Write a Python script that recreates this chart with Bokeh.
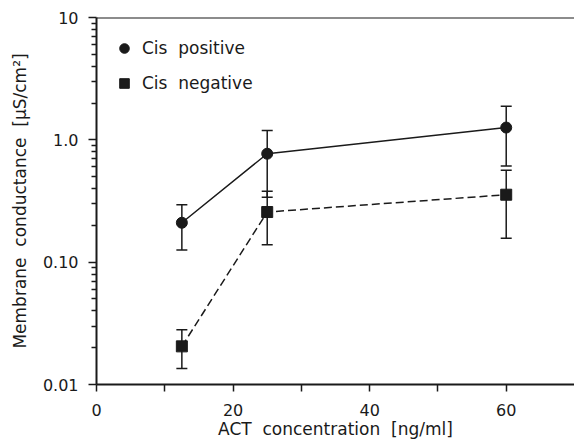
from bokeh.plotting import figure
from bokeh.models import (Whisker, TeeHead, ColumnDataSource, Legend, LegendItem,
                          FixedTicker, Span, Range1d)
from bokeh.embed import file_html
from bokeh.resources import INLINE

# ---- data ----
conc = [12.5, 25, 60]
pos_mean = [0.21, 0.77, 1.26]
pos_upper = [0.295, 1.19, 1.88]
pos_lower = [0.126, 0.34, 0.61]
neg_mean = [0.0205, 0.257, 0.356]
neg_upper = [0.028, 0.38, 0.565]
neg_lower = [0.0135, 0.139, 0.157]

x_ticks = [0, 10, 20, 30, 40, 50, 60]
x_tick_labels = {0: "0", 10: "", 20: "20", 30: "", 40: "40", 50: "", 60: "60"}
y_ticks = [0.01, 0.1, 1, 10]
y_tick_labels = {0.01: "0.01", 0.1: "0.10", 1: "1.0", 10: "10"}
y_minor = [m * 10.0 ** k for k in (-2, -1, 0) for m in range(2, 10)]

INK = "#1a1a1a"
FONT = "DejaVu Sans"

p = figure(width=574, height=441, y_axis_type="log",
           x_range=Range1d(0, 70), y_range=Range1d(0.01, 10),
           output_backend="svg", toolbar_location=None,
           min_border_left=96, min_border_top=17, min_border_bottom=57,
           min_border_right=0)
p.outline_line_color = None
p.grid.visible = False
p.background_fill_color = "white"

# top border line
p.add_layout(Span(location=10, dimension="width", line_color=INK, line_width=2))

src_pos = ColumnDataSource(dict(x=conc, y=pos_mean, upper=pos_upper, lower=pos_lower))
src_neg = ColumnDataSource(dict(x=conc, y=neg_mean, upper=neg_upper, lower=neg_lower))

for src in (src_pos, src_neg):
    p.add_layout(Whisker(base="x", upper="upper", lower="lower", source=src,
                         line_color=INK, line_width=1.5,
                         upper_head=TeeHead(size=11, line_color=INK, line_width=1.5),
                         lower_head=TeeHead(size=11, line_color=INK, line_width=1.5)))

p.line("x", "y", source=src_pos, line_color=INK, line_width=1.5)
p.line("x", "y", source=src_neg, line_color=INK, line_width=1.5, line_dash="8 4")
r_pos = p.scatter("x", "y", source=src_pos, marker="circle", size=11,
                  fill_color=INK, line_color=INK)
r_neg = p.scatter("x", "y", source=src_neg, marker="square", size=11,
                  fill_color=INK, line_color=INK)

legend = Legend(items=[LegendItem(label="Cis\u00a0 positive", renderers=[r_pos]),
                       LegendItem(label="Cis\u00a0 negative", renderers=[r_neg])],
                location="top_left", margin=16, padding=0, spacing=5,
                glyph_width=24, glyph_height=30, label_height=30, label_standoff=6,
                label_text_font=FONT, label_text_font_size="17px", label_text_color=INK,
                border_line_color=None, background_fill_alpha=0)
p.add_layout(legend)

# x axis
xa = p.xaxis[0]
xa.ticker = FixedTicker(ticks=x_ticks)
xa.major_label_overrides = x_tick_labels
xa.axis_label = "ACT\u00a0 concentration\u00a0 [ng/ml]"
xa.minor_tick_line_color = None
xa.major_tick_out = 7
xa.major_tick_in = 0
xa.major_label_standoff = 12
xa.axis_label_standoff = 0

# y axis
ya = p.yaxis[0]
ya.ticker = FixedTicker(ticks=y_ticks, minor_ticks=y_minor)
ya.major_label_overrides = y_tick_labels
ya.axis_label = "Membrane\u00a0 conductance\u00a0 [\u00b5S/cm\u00b2]"
ya.major_tick_out = 8
ya.major_tick_in = 0
ya.minor_tick_out = 5
ya.minor_tick_in = 0
ya.major_label_standoff = 10
ya.axis_label_standoff = 10

for ax in (xa, ya):
    ax.axis_line_color = INK
    ax.axis_line_width = 2
    ax.major_tick_line_color = INK
    ax.major_tick_line_width = 1.5
    ax.minor_tick_line_color = INK if ax is ya else None
    ax.minor_tick_line_width = 1.5
    ax.major_label_text_font = FONT
    ax.major_label_text_font_size = "16px"
    ax.major_label_text_color = INK
    ax.axis_label_text_font = FONT
    ax.axis_label_text_font_size = "17px"
    ax.axis_label_text_font_style = "normal"
    ax.axis_label_text_color = INK

open("out.html", "w").write(file_html(p, INLINE))
